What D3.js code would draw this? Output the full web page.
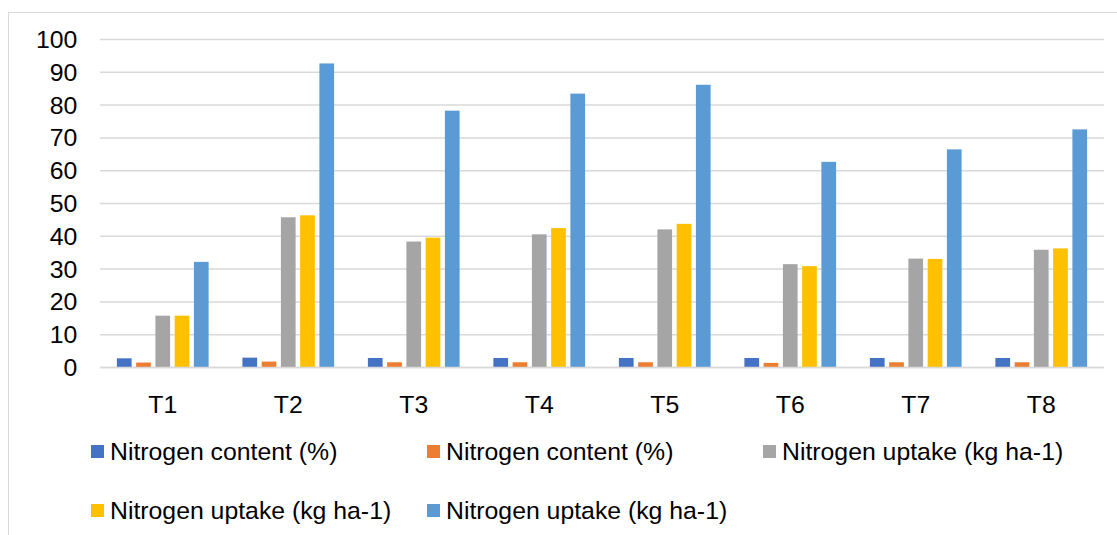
<!DOCTYPE html>
<html><head><meta charset="utf-8">
<script src="https://cdn.jsdelivr.net/npm/d3@7"></script>
<style>
html,body{margin:0;padding:0;background:#fff;}
svg{display:block;font-family:"Liberation Sans",Arial,sans-serif;}
</style></head>
<body>
<svg id="chart" width="1117" height="535"></svg>
<script>
const categories = ["T1","T2","T3","T4","T5","T6","T7","T8"];
const seriesNames = ["Nitrogen content (%)","Nitrogen content (%)","Nitrogen uptake (kg ha-1)","Nitrogen uptake (kg ha-1)","Nitrogen uptake (kg ha-1)"];
const nContentA = [2.8, 3.0, 2.9, 2.9, 2.9, 2.9, 2.9, 2.9];
const nContentB = [1.5, 1.8, 1.6, 1.6, 1.6, 1.4, 1.6, 1.6];
const nUptakeA  = [15.8, 45.8, 38.4, 40.6, 42.1, 31.5, 33.2, 35.9];
const nUptakeB  = [15.8, 46.4, 39.6, 42.5, 43.8, 30.9, 33.1, 36.3];
const nUptakeC  = [32.2, 92.7, 78.3, 83.5, 86.2, 62.7, 66.5, 72.6];
const yTicks = [0,10,20,30,40,50,60,70,80,90,100];
const colors = ["#4472C4","#ED7D31","#A5A5A5","#FFC000","#5B9BD5"];
const seriesValues = [nContentA, nContentB, nUptakeA, nUptakeB, nUptakeC];

(function(){
const svg = d3.select("#chart");
const mLeft = 100, mRight = 1104, mTop = 39.5, mBottom = 367.5;
const fs = 24.8;

// chart border
svg.append("rect").attr("x",8.5).attr("y",12.5).attr("width",1130).attr("height",540)
  .attr("fill","none").attr("stroke","#d9d9d9").attr("stroke-width",1);

const y = d3.scaleLinear().domain([0,100]).range([mBottom, mTop]);
const x0 = d3.scaleBand().domain(categories).range([mLeft, mRight]).paddingInner(0.233).paddingOuter(0.1165);
const x1 = d3.scaleBand().domain(d3.range(seriesValues.length)).range([0, x0.bandwidth()]).paddingInner(0.236).paddingOuter(0.118);

// gridlines
svg.append("g").selectAll("line").data(yTicks).join("line")
  .attr("x1",mLeft).attr("x2",mRight)
  .attr("y1",d=>y(d)).attr("y2",d=>y(d))
  .attr("stroke","#d9d9d9").attr("stroke-width",1.5);

// y labels
const yAxis = d3.axisLeft(y).tickValues(yTicks).tickSize(0).tickPadding(22.7);
const ya = svg.append("g").attr("transform",`translate(${mLeft},0)`).call(yAxis);
ya.select(".domain").remove();
ya.selectAll("text").attr("font-size",fs).attr("fill","#000").attr("font-family","Liberation Sans, Arial, sans-serif");

// bars
const groups = svg.append("g").selectAll("g").data(categories).join("g")
  .attr("transform",d=>`translate(${x0(d)},0)`);
groups.selectAll("rect").data((d,i)=>seriesValues.map((s,k)=>({k, v:s[i]}))).join("rect")
  .attr("x",d=>x1(d.k)).attr("width",x1.bandwidth())
  .attr("y",d=>y(d.v)).attr("height",d=>y(0)-y(d.v))
  .attr("fill",d=>colors[d.k]);

// baseline
svg.append("line").attr("x1",mLeft).attr("x2",mRight).attr("y1",y(0)).attr("y2",y(0))
  .attr("stroke","#d9d9d9").attr("stroke-width",1.5);

// x labels
const xAxis = d3.axisBottom(x0).tickSize(0).tickPadding(28);
const xa = svg.append("g").attr("transform",`translate(0,${mBottom})`).call(xAxis);
xa.select(".domain").remove();
xa.selectAll("text").attr("font-size",fs).attr("fill","#000").attr("font-family","Liberation Sans, Arial, sans-serif");

// legend
const legendPos = [[91,451.5],[427,451.5],[763,451.5],[91,510.5],[427,510.5]];
const lg = svg.append("g").selectAll("g").data(seriesNames).join("g")
  .attr("transform",(d,i)=>`translate(${legendPos[i][0]},${legendPos[i][1]})`);
lg.append("rect").attr("x",0).attr("y",-6.5).attr("width",13).attr("height",13).attr("fill",(d,i)=>colors[i]);
lg.append("text").attr("x",19).attr("y",0).attr("dy","0.35em")
  .attr("font-size",fs).attr("fill","#000").text(d=>d);
})();
</script>
</body></html>
